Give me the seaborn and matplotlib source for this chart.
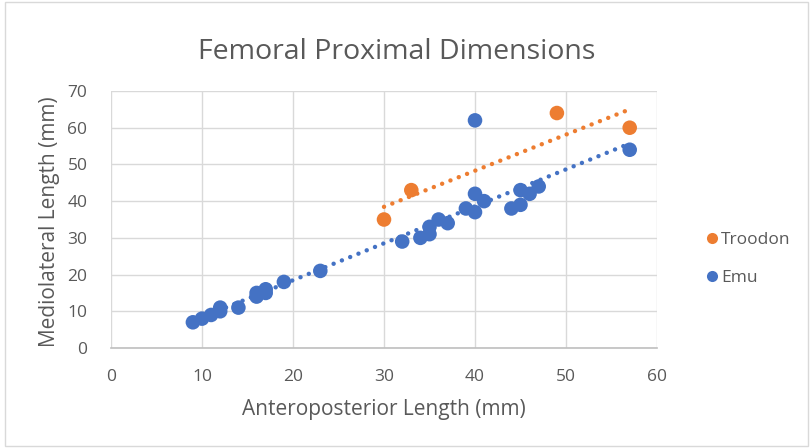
import matplotlib
matplotlib.use("Agg")
import matplotlib.pyplot as plt
import seaborn as sns
import pandas as pd
from matplotlib.patches import Rectangle
from matplotlib.lines import Line2D

# ---- data ----
troodon_x = [30, 33, 49, 57]
troodon_y = [35, 43, 64, 60]

emu_x = [9, 10, 11, 12, 12, 14, 16, 16, 17, 17, 19, 23, 32, 34, 35, 35, 36, 37,
         39, 40, 40, 41, 40, 44, 45, 45, 46, 47, 57]
emu_y = [7, 8, 9, 11, 10, 11, 14, 15, 15, 16, 18, 21, 29, 30, 31, 33, 35, 34,
         38, 37, 42, 40, 62, 38, 39, 43, 42, 44, 54]

series_names = ["Troodon", "Emu"]
x_ticks = [0, 10, 20, 30, 40, 50, 60]
y_ticks = [0, 10, 20, 30, 40, 50, 60, 70]

title = "Femoral Proximal Dimensions"
x_label = "Anteroposterior Length (mm)"
y_label = "Mediolateral Length (mm)"

colors = {"Troodon": "#ED7D31", "Emu": "#4472C4"}

df = pd.DataFrame({
    "x": troodon_x + emu_x,
    "y": troodon_y + emu_y,
    "species": [series_names[0]] * len(troodon_x) + [series_names[1]] * len(emu_x),
})

sns.set_style("white")
plt.rcParams["font.family"] = ["Open Sans", "DejaVu Sans"]

W, H = 810, 448
fig = plt.figure(figsize=(W / 100, H / 100), dpi=100)
ax = fig.add_axes([111 / W, 1 - 348 / H, (657 - 111) / W, (348 - 91) / H])

# trendlines
for name in ["Emu", "Troodon"]:
    sub = df[df["species"] == name]
    sns.regplot(data=sub, x="x", y="y", ax=ax, scatter=False, ci=None,
                color=colors[name], truncate=True,
                line_kws=dict(linestyle=(0, (0.01, 2.0)), linewidth=3.2,
                              dash_capstyle="round", zorder=2))

sns.scatterplot(data=df, x="x", y="y", hue="species", palette=colors,
                hue_order=["Emu", "Troodon"], s=110, linewidth=0, ax=ax,
                legend=False, zorder=3)

ax.set_xlim(0, 60)
ax.set_ylim(0, 70)
ax.set_xticks(x_ticks)
ax.set_yticks(y_ticks)
ax.grid(True, color="#d9d9d9", linewidth=1)
ax.set_axisbelow(True)
for s in ["top", "right", "left"]:
    ax.spines[s].set_visible(False)
ax.spines["bottom"].set_color("#bfbfbf")
ax.spines["bottom"].set_linewidth(1.2)
ax.tick_params(axis="both", length=0, labelsize=12.5, colors="#595959")
ax.tick_params(axis="x", pad=15)
ax.tick_params(axis="y", pad=17)
ax.set_xlabel("")
ax.set_ylabel("")

fig.text(384 / W, 1 - 409 / H, x_label, ha="center", va="center",
         fontsize=15, color="#595959")
fig.text(50 / W, 1 - 222 / H, y_label, ha="center", va="center",
         rotation=90, fontsize=15, color="#595959")
fig.text(397 / W, 1 - 52 / H, title, ha="center", va="center",
         fontsize=20.5, color="#595959")

# legend
handles = [Line2D([], [], marker="o", linestyle="", markersize=8,
                  markerfacecolor=colors[n], markeredgewidth=0) for n in series_names]
fig.legend(handles, series_names, loc="center left",
           bbox_to_anchor=(688 / W, 1 - 259 / H), frameon=False,
           fontsize=12.5, labelcolor="#595959", handletextpad=0.0,
           labelspacing=1.25, handlelength=1.0)

# chart border
fig.patches.append(Rectangle((5 / W, 2 / H), 803 / W, 444 / H,
                             transform=fig.transFigure, fill=False,
                             edgecolor="#d9d9d9", linewidth=1))

fig.savefig("out.png", dpi=100)
